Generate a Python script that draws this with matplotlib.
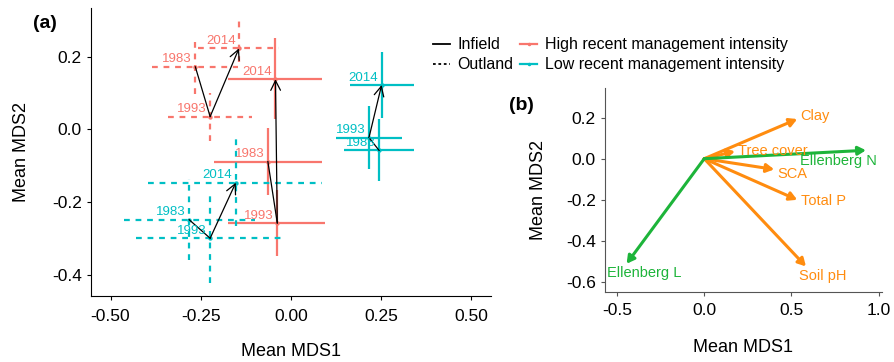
import numpy as np
import matplotlib.pyplot as plt
from matplotlib.lines import Line2D
from matplotlib.ticker import FormatStrFormatter

plt.rcParams['font.family'] = ['Liberation Sans', 'DejaVu Sans']

years = ['1983', '1993', '2014']

# panel (a): mean MDS scores with error bar ends, one set per group
hi_out_x = [-0.265, -0.224, -0.144]
hi_out_y = [0.172, 0.035, 0.223]
hi_out_xlo = [-0.386, -0.340, -0.257]
hi_out_xhi = [-0.146, -0.109, -0.032]
hi_out_ylo = [0.097, -0.032, 0.184]
hi_out_yhi = [0.244, 0.101, 0.299]

hi_in_x = [-0.064, -0.038, -0.043]
hi_in_y = [-0.089, -0.258, 0.138]
hi_in_xlo = [-0.213, -0.174, -0.174]
hi_in_xhi = [0.087, 0.094, 0.087]
hi_in_ylo = [-0.180, -0.350, 0.028]
hi_in_yhi = [0.003, -0.166, 0.251]

lo_out_x = [-0.282, -0.224, -0.153]
lo_out_y = [-0.249, -0.300, -0.147]
lo_out_xlo = [-0.462, -0.430, -0.395]
lo_out_xhi = [-0.100, -0.017, 0.087]
lo_out_ylo = [-0.359, -0.424, -0.267]
lo_out_yhi = [-0.138, -0.175, -0.026]

lo_in_x = [0.244, 0.216, 0.251]
lo_in_y = [-0.058, -0.023, 0.122]
lo_in_xlo = [0.148, 0.124, 0.163]
lo_in_xhi = [0.341, 0.308, 0.341]
lo_in_ylo = [-0.143, -0.110, 0.030]
lo_in_yhi = [0.028, 0.064, 0.214]

# panel (b): environmental vectors
env_names = ['Clay', 'Tree cover', 'SCA', 'Total P', 'Soil pH', 'Ellenberg N', 'Ellenberg L']
env_x = [0.533, 0.176, 0.401, 0.533, 0.583, 0.927, -0.445]
env_y = [0.193, 0.036, -0.052, -0.200, -0.524, 0.041, -0.511]
env_kind = ['env', 'env', 'env', 'env', 'env', 'ell', 'ell']

HI = '#F8766D'
LO = '#00BFC4'
ORANGE = '#FF8C0F'
GREEN = '#1DB43A'
DASH = (0, (2.6, 2.6))

fig = plt.figure(figsize=(8.94, 3.62), dpi=100)
ax = fig.add_axes([0.1018, 0.1823, 0.4474, 0.7956])
ax2 = fig.add_axes([0.6767, 0.1942, 0.3095, 0.5627])


def draw_group(x, y, xlo, xhi, ylo, yhi, col, ls):
    ax.hlines(y, xlo, xhi, colors=col, linestyles=ls, lw=1.6, zorder=2)
    ax.vlines(x, ylo, yhi, colors=col, linestyles=ls, lw=1.6, zorder=2)
    ax.scatter(x, y, s=10, color=col, zorder=3, linewidths=0)
    ax.plot(x[:2], y[:2], color='k', lw=0.9, zorder=4)
    ax.annotate('', xy=(x[2], y[2]), xytext=(x[1], y[1]),
                arrowprops=dict(arrowstyle='->,head_length=0.7,head_width=0.35',
                                color='k', lw=0.9, shrinkA=0, shrinkB=0,
                                mutation_scale=10), zorder=4)
    for xi, yi, yr in zip(x, y, years):
        ax.annotate(yr, (xi, yi), xytext=(-2.5, 1.0), textcoords='offset points',
                    ha='right', va='bottom', color=col, fontsize=9.5, zorder=5)


draw_group(hi_out_x, hi_out_y, hi_out_xlo, hi_out_xhi, hi_out_ylo, hi_out_yhi, HI, DASH)
draw_group(hi_in_x, hi_in_y, hi_in_xlo, hi_in_xhi, hi_in_ylo, hi_in_yhi, HI, '-')
draw_group(lo_out_x, lo_out_y, lo_out_xlo, lo_out_xhi, lo_out_ylo, lo_out_yhi, LO, DASH)
draw_group(lo_in_x, lo_in_y, lo_in_xlo, lo_in_xhi, lo_in_ylo, lo_in_yhi, LO, '-')

ax.set_xlim(-0.554, 0.554)
ax.set_ylim(-0.459, 0.334)
ax.set_xticks([-0.5, -0.25, 0, 0.25, 0.5])
ax.set_yticks([-0.4, -0.2, 0.0, 0.2])
ax.xaxis.set_major_formatter(FormatStrFormatter('%.2f'))
ax.yaxis.set_major_formatter(FormatStrFormatter('%.1f'))
ax.set_xlabel('Mean MDS1', fontsize=13, labelpad=14)
ax.set_ylabel('Mean MDS2', fontsize=13, labelpad=16)
for s in ['top', 'right']:
    ax.spines[s].set_visible(False)
ax.tick_params(labelsize=12.5, length=3, width=0.8)
ax.tick_params(axis='x', pad=6)

# panel (b)
for xe, ye, nm, kind in zip(env_x, env_y, env_names, env_kind):
    col = ORANGE if kind == 'env' else GREEN
    ax2.annotate('', xy=(xe, ye), xytext=(0, 0),
                 arrowprops=dict(arrowstyle='-|>,head_length=0.45,head_width=0.25',
                                 color=col, lw=2.2, shrinkA=0, shrinkB=0,
                                 mutation_scale=10),
                 zorder=3 if kind == 'ell' else 2)

lab_off = {'Clay': (2, 2.5, 'left'), 'Tree cover': (2.5, 0.5, 'left'),
           'SCA': (2.5, -3, 'left'), 'Total P': (2.5, -0.5, 'left'),
           'Soil pH': (-5, -7, 'left'), 'Ellenberg N': (8, -8, 'right'),
           'Ellenberg L': (-14, -6.5, 'left')}
for xe, ye, nm, kind in zip(env_x, env_y, env_names, env_kind):
    col = ORANGE if kind == 'env' else GREEN
    dx, dy, ha = lab_off[nm]
    ax2.annotate(nm, (xe, ye), xytext=(dx, dy), textcoords='offset points',
                 ha=ha, va='center', color=col, fontsize=10.5, zorder=5)

ax2.set_xlim(-0.569, 1.017)
ax2.set_ylim(-0.647, 0.344)
ax2.set_xticks([-0.5, 0.0, 0.5, 1.0])
ax2.set_yticks([-0.6, -0.4, -0.2, 0.0, 0.2])
ax2.xaxis.set_major_formatter(FormatStrFormatter('%.1f'))
ax2.yaxis.set_major_formatter(FormatStrFormatter('%.1f'))
ax2.set_xlabel('Mean MDS1', fontsize=13, labelpad=15)
ax2.set_ylabel('Mean MDS2', fontsize=13, labelpad=14)
for s in ['top', 'right']:
    ax2.spines[s].set_visible(False)
for s in ['left', 'bottom']:
    ax2.spines[s].set_color('#555555')
ax2.tick_params(labelsize=12.5, length=3, width=0.8, color='#555555')
ax2.tick_params(axis='x', pad=5)

fig.text(0.050, 0.936, '(a)', fontsize=14, fontweight='bold', va='center', ha='center')
fig.text(0.583, 0.708, '(b)', fontsize=14, fontweight='bold', va='center', ha='center')

handles = [Line2D([], [], color='k', lw=1.3),
           Line2D([], [], color='k', lw=1.3, ls=(0, (1.5, 1.5))),
           Line2D([], [], color=HI, lw=1.6, marker='.', ms=3),
           Line2D([], [], color=LO, lw=1.6, marker='.', ms=3)]
labels = ['Infield', 'Outland', 'High recent management intensity',
          'Low recent management intensity']
fig.legend(handles, labels, loc='upper left', bbox_to_anchor=(0.484, 0.897),
           ncol=2, frameon=False, fontsize=11.5, handlelength=1.1,
           handletextpad=0.45, columnspacing=0.4, labelspacing=0.32,
           borderpad=0.0, borderaxespad=0.0)

fig.savefig('out.png', dpi=100)
